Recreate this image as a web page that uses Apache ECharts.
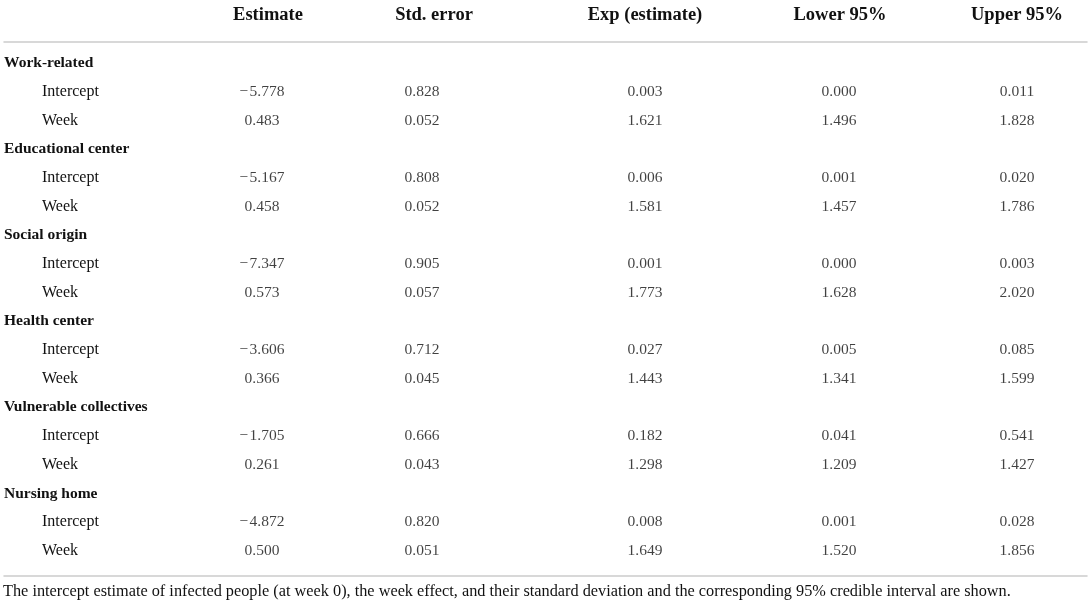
<!DOCTYPE html>
<html>
<head>
<meta charset="utf-8">
<script src="https://cdn.jsdelivr.net/npm/echarts@6/dist/echarts.min.js"></script>
<style>
  html, body { margin: 0; padding: 0; background: #fff; }
  #main { width: 1091px; height: 605px; }
</style>
</head>
<body>
<div id="main"></div>
<script>
var groups = ['Work-related', 'Educational center', 'Social origin', 'Health center', 'Vulnerable collectives', 'Nursing home'];
var terms = ['Intercept', 'Week'];
var headers = ['Estimate', 'Std. error', 'Exp (estimate)', 'Lower 95%', 'Upper 95%'];

// two values per group: intercept, week
var estimate = [-5.778, 0.483, -5.167, 0.458, -7.347, 0.573, -3.606, 0.366, -1.705, 0.261, -4.872, 0.500];
var stdError = [0.828, 0.052, 0.808, 0.052, 0.905, 0.057, 0.712, 0.045, 0.666, 0.043, 0.820, 0.051];
var expEstimate = [0.003, 1.621, 0.006, 1.581, 0.001, 1.773, 0.027, 1.443, 0.182, 1.298, 0.008, 1.649];
var lower95 = [0.000, 1.496, 0.001, 1.457, 0.000, 1.628, 0.005, 1.341, 0.041, 1.209, 0.001, 1.520];
var upper95 = [0.011, 1.828, 0.020, 1.786, 0.003, 2.020, 0.085, 1.599, 0.541, 1.427, 0.028, 1.856];

var note = 'The intercept estimate of infected people (at week 0), the week effect, and their standard deviation and the corresponding 95% credible interval are shown.';

// layout: column centres on the x value axis
var colX = [262, 422, 645, 839, 1017];
var headX = [268, 434, 645, 840, 1017];
var FONT = 'Liberation Serif';
var INK = '#111111';

var rows = [];
var isGroup = [];
var valueRow = [];
groups.forEach(function (g) {
  rows.push(g);
  isGroup.push(true);
  terms.forEach(function (t) {
    valueRow.push(rows.length);
    rows.push(t);
    isGroup.push(false);
  });
});

function fmt(v) {
  var s = Math.abs(v).toFixed(3);
  return v < 0 ? '\u2212\u200a' + s : s;
}

var columns = [estimate, stdError, expEstimate, lower95, upper95];
var series = columns.map(function (vals, c) {
  return {
    type: 'scatter',
    symbolSize: 1,
    itemStyle: { color: 'transparent' },
    silent: true,
    data: vals.map(function (v, k) { return [colX[c], valueRow[k], v]; }),
    label: {
      show: true,
      position: 'inside',
      fontFamily: FONT,
      fontSize: 15.5,
      color: INK,
      textBorderWidth: 0,
      formatter: function (p) { return fmt(p.value[2]); }
    }
  };
});

var chart = echarts.init(document.getElementById('main'));
chart.setOption({
  animation: false,
  title: {
    text: note,
    left: 3,
    top: 584,
    padding: 0,
    textStyle: { fontFamily: FONT, fontSize: 16.3, fontWeight: 'normal', color: INK }
  },
  grid: { left: 4, right: 4, top: 48.7, bottom: 39.7 },
  xAxis: [
    {
      type: 'value',
      position: 'top',
      min: 4,
      max: 1087,
      offset: 7.2,
      splitLine: { show: false },
      axisTick: { show: false },
      axisLine: { show: true, lineStyle: { color: '#cbcbcb', width: 1.5 } },
      axisLabel: {
        customValues: headX,
        margin: 17,
        fontFamily: FONT,
        fontSize: 18.5,
        fontWeight: 'bold',
        color: INK,
        formatter: function (v) { return headers[headX.indexOf(v)] || ''; }
      }
    },
    {
      type: 'value',
      position: 'bottom',
      min: 4,
      max: 1087,
      offset: 10.4,
      splitLine: { show: false },
      axisTick: { show: false },
      axisLabel: { show: false },
      axisLine: { show: true, lineStyle: { color: '#cbcbcb', width: 1.5 } }
    }
  ],
  yAxis: {
    type: 'category',
    inverse: true,
    data: rows,
    axisLine: { show: false },
    axisTick: { show: false },
    splitLine: { show: false },
    axisLabel: {
      inside: true,
      margin: 0,
      interval: 0,
      align: 'left',
      formatter: function (v, i) {
        return isGroup[i] ? '{g|' + v + '}' : '{t|' + v + '}';
      },
      rich: {
        g: { fontFamily: FONT, fontSize: 15.5, fontWeight: 'bold', color: INK },
        t: { fontFamily: FONT, fontSize: 16, color: INK, padding: [0, 0, 0, 38] }
      }
    }
  },
  series: series
});
</script>
</body>
</html>
